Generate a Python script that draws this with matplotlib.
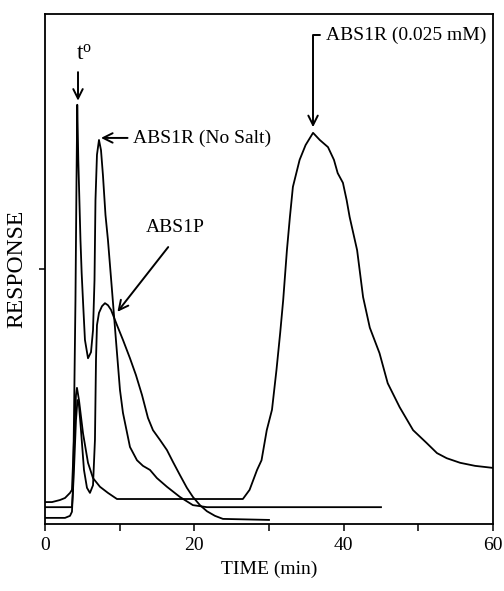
import matplotlib
matplotlib.use("Agg")
import matplotlib.pyplot as plt
from matplotlib.ticker import MultipleLocator

plt.rcParams['font.family'] = ['Liberation Serif', 'DejaVu Serif']
plt.rcParams['mathtext.fontset'] = 'custom'
plt.rcParams['mathtext.rm'] = 'Liberation Serif'
plt.rcParams['mathtext.it'] = 'Liberation Serif:italic'

# ---- data (time in min, response in relative units) ----
nosalt_t = [0, 3.61, 3.75, 3.88, 4.08, 4.22, 4.32, 4.46, 4.75, 4.91, 5.13, 5.35, 5.76,
            6.16, 6.43, 6.63, 6.76, 6.96, 7.23, 7.50, 7.76, 8.10, 8.43, 8.97, 9.50,
            10.04, 10.44, 11.38, 12.32, 13.12, 14.06, 14.99, 16.33, 18.07, 19.81,
            21.69, 45.0]
nosalt_r = [0.033, 0.033, 0.067, 0.204, 0.439, 0.675, 0.822, 0.714, 0.557, 0.492, 0.425,
            0.361, 0.325, 0.337, 0.380, 0.478, 0.635, 0.724, 0.753, 0.733, 0.684, 0.606,
            0.557, 0.459, 0.361, 0.263, 0.218, 0.151, 0.125, 0.114, 0.106, 0.090, 0.073,
            0.053, 0.037, 0.033, 0.033]

abs1p_t = [0, 2.68, 3.35, 3.61, 3.88, 4.15, 4.35, 4.55, 4.82, 5.22, 5.62, 6.02, 6.43,
           6.69, 6.83, 6.96, 7.23, 7.63, 8.03, 8.43, 8.84, 9.64, 10.44, 11.38, 12.18,
           12.99, 13.79, 14.46, 15.39, 16.33, 17.13, 18.07, 19.0, 19.81, 20.75, 21.69,
           22.76, 23.83, 30.0]
abs1p_r = [0.012, 0.012, 0.016, 0.024, 0.106, 0.204, 0.243, 0.233, 0.184, 0.106, 0.071,
           0.061, 0.076, 0.165, 0.322, 0.390, 0.414, 0.427, 0.433, 0.429, 0.420, 0.390,
           0.361, 0.325, 0.292, 0.253, 0.208, 0.184, 0.165, 0.145, 0.122, 0.096, 0.071,
           0.053, 0.037, 0.025, 0.016, 0.010, 0.008]

salt_t = [0, 0.94, 2.0, 2.68, 3.35, 3.61, 3.88, 4.15, 4.28, 4.55, 5.09, 5.76, 6.43, 7.36,
          8.43, 9.64, 26.5, 27.4, 28.4, 29.0, 29.7, 30.4, 31.0, 31.5, 31.9, 32.4, 32.8,
          33.2, 34.1, 34.9, 35.9, 36.8, 37.9, 38.7, 39.2, 39.9, 40.4, 40.8, 41.8, 42.6,
          43.5, 44.8, 45.9, 47.5, 49.3, 51.1, 52.5, 53.8, 55.6, 57.6, 60.0]
salt_r = [0.043, 0.043, 0.047, 0.051, 0.061, 0.067, 0.165, 0.253, 0.267, 0.243, 0.178,
          0.120, 0.090, 0.073, 0.061, 0.049, 0.049, 0.067, 0.106, 0.125, 0.184, 0.224,
          0.302, 0.375, 0.439, 0.537, 0.602, 0.661, 0.714, 0.743, 0.767, 0.753, 0.739,
          0.714, 0.688, 0.669, 0.635, 0.602, 0.537, 0.445, 0.385, 0.335, 0.276, 0.229,
          0.184, 0.159, 0.139, 0.129, 0.120, 0.114, 0.110]

xticks = [0, 20, 40, 60]
xlabel = "TIME (min)"
ylabel = "RESPONSE"

fig = plt.figure(figsize=(5.04, 5.91), dpi=100)
ax = fig.add_axes([45/504, 67/591, 448/504, 510/591])

lw = 1.3
for t, r in [(nosalt_t, nosalt_r), (abs1p_t, abs1p_r), (salt_t, salt_r)]:
    ax.plot(t, r, color='black', lw=lw)

ax.set_xlim(0, 60)
ax.set_ylim(0, 1)
ax.set_xticks(xticks)
ax.xaxis.set_minor_locator(MultipleLocator(10))
ax.set_yticks([0.5])
ax.set_yticklabels([])
ax.tick_params(axis='x', which='both', direction='out', length=5, width=1.1,
               labelsize=14, pad=4)
ax.tick_params(axis='y', direction='out', length=4, width=1.1)
for s in ax.spines.values():
    s.set_linewidth(1.3)

ax.set_xlabel(xlabel, fontsize=14, labelpad=5)
ax.set_ylabel(ylabel, fontsize=17, labelpad=5)

ap = dict(arrowstyle='->', lw=1.4, color='black', mutation_scale=17, shrinkA=2, shrinkB=0)

# t0
ax.annotate('', xy=(4.42, 0.83), xytext=(4.42, 0.886),
            arrowprops=dict(ap, shrinkA=0))
ax.text(4.2, 0.91, r't$^{\mathrm{o}}$', fontsize=16.5, ha='left', va='baseline')

ax.annotate('ABS1R (No Salt)', xy=(7.5, 0.757), xytext=(11.8, 0.757),
            fontsize=14, ha='left', va='center', arrowprops=ap)

ax.annotate('ABS1R (0.025 mM)', xy=(35.9, 0.778), xytext=(37.6, 0.959),
            fontsize=14, ha='left', va='center',
            arrowprops=dict(ap, connectionstyle='angle,angleA=180,angleB=90,rad=0'))

ax.text(17.5, 0.582, 'ABS1P', fontsize=14, ha='center', va='center')
ax.annotate('', xy=(9.7, 0.416), xytext=(16.5, 0.543),
            arrowprops=dict(ap, shrinkA=0))

fig.savefig('out.png', dpi=100)
